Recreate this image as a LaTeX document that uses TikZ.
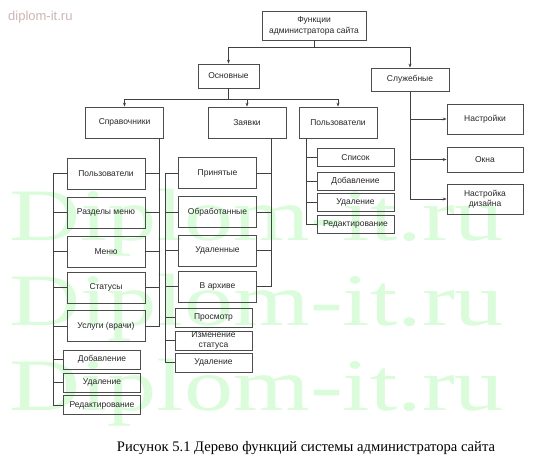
\documentclass[tikz,border=0pt]{standalone}
\usepackage{fontspec}
\setmainfont{Liberation Sans}
\newfontfamily\serifcap{Liberation Serif}
\usetikzlibrary{arrows.meta}
\definecolor{wmgreen}{RGB}{218,252,218}
\definecolor{wmpink}{RGB}{205,180,180}

\begin{document}
\begin{tikzpicture}[x=1pt, y=-1pt, >={Stealth[length=4pt, width=3pt]},
	blok/.style={draw=black!70, line width=0.7pt, inner sep=0pt, align=center,
		text=black!85, font=\fontsize{8.5}{10}\selectfont},
	bolsh/.style={blok, minimum width=78, minimum height=31},
	mal/.style={blok, minimum width=77, minimum height=19},
	svyaz/.style={black!75, line width=0.7pt},
	strel/.style={svyaz, ->},
	vodyan/.style={text=wmgreen, font=\serifcap\fontsize{74}{74}\selectfont,
		anchor=base west, inner sep=0pt, xscale=1.33, transform shape},
	]
	
	\useasboundingbox (0,0) rectangle (549,460);
	
	\def\spR{159}  % шина справа от Справочников
	\def\spL{53}   % шина слева от Справочников
	\def\zaR{271}  % шина справа от Заявок
	\def\zaL{165}  % шина слева от Заявок
	\def\puL{306}  % шина Пользователей
	
	%% ── Водяные знаки ────────────────────────────────────────────────────────
	\node[vodyan] (wm1) at (9,240) {Diplom-it.ru};
	\node[vodyan] (wm2) at (9,325) {Diplom-it.ru};
	\node[vodyan] (wm3) at (9,410) {Diplom-it.ru};
	\node[text=wmpink, font=\fontsize{13}{13}\selectfont, anchor=base west,
		inner sep=0pt] (sajt) at (8,21) {diplom-it.ru};
	
	%% ── Корень и первый уровень ──────────────────────────────────────────────
	\node[blok, minimum width=104, minimum height=29,
		font=\fontsize{8.5}{11}\selectfont] (koren) at (314,25.5)
		{Функции\\администратора сайта};
	\node[blok, minimum width=61, minimum height=24] (osn) at (228.5,76) {Основные};
	\node[blok, minimum width=78, minimum height=23] (sluzh) at (410,79.5) {Служебные};
	\draw[strel] (koren.south) -- ++(0,7) -| (osn.north);
	\draw[strel] (koren.south) -- ++(0,7) -| (sluzh.north);
	
	%% ── Основные ─────────────────────────────────────────────────────────────
	\node[bolsh] (sprav) at (124.5,122.5) {Справочники};
	\node[bolsh] (zayav) at (247,122.5) {Заявки};
	\node[bolsh] (polz) at (338,122.5) {Пользователи};
	\draw[strel] (osn.south) -- ++(0,11) -| (sprav.north);
	\draw[strel] (osn.south) -- ++(0,11) -| (zayav.north);
	\draw[strel] (osn.south) -- ++(0,11) -| (polz.north);
	
	%% ── Справочники ──────────────────────────────────────────────────────────
	\node[bolsh] (sp1) at (106,173.5) {Пользователи};
	\node[bolsh] (sp2) at (106,212.5) {Разделы меню};
	\node[bolsh] (sp3) at (106,251.5) {Меню};
	\node[bolsh] (sp4) at (106,287.5) {Статусы};
	\node[bolsh] (sp5) at (106,326) {Услуги (врачи)};
	\node[mal] (sp6) at (102,359.5) {Добавление};
	\node[mal] (sp7) at (102,382.5) {Удаление};
	\node[mal] (sp8) at (102,405) {Редактирование};
	\draw[svyaz] (\spR,0 |- sprav.south) |- (sp5.east);
	\foreach \n in {sp1,sp2,sp3,sp4}
	\draw[svyaz] (\n.east) -- (\n.east -| \spR,0);
	\draw[svyaz] (sp1.west) -- (sp1.west -| \spL,0) |- (sp8.west);
	\foreach \n in {sp2,sp3,sp4,sp5,sp6,sp7}
	\draw[svyaz] (\n.west) -- (\n.west -| \spL,0);
	
	%% ── Заявки ───────────────────────────────────────────────────────────────
	\node[bolsh] (za1) at (217.5,173) {Принятые};
	\node[bolsh] (za2) at (217.5,212) {Обработанные};
	\node[bolsh] (za3) at (217.5,250.5) {Удаленные};
	\node[bolsh] (za4) at (217.5,286.5) {В архиве};
	\node[mal] (za5) at (213.5,317.5) {Просмотр};
	\node[mal, font=\fontsize{8.5}{9.5}\selectfont] (za6) at (213.5,340.5) {Изменение\\статуса};
	\node[mal] (za7) at (213.5,362.5) {Удаление};
	\draw[svyaz] (\zaR,0 |- zayav.south) |- (za4.east);
	\foreach \n in {za1,za2,za3}
	\draw[svyaz] (\n.east) -- (\n.east -| \zaR,0);
	\draw[svyaz] (za1.west) -- (za1.west -| \zaL,0) |- (za7.west);
	\foreach \n in {za2,za3,za4,za5,za6}
	\draw[svyaz] (\n.west) -- (\n.west -| \zaL,0);
	
	%% ── Пользователи ─────────────────────────────────────────────────────────
	\node[mal, minimum height=18] (pu1) at (355.5,157.5) {Список};
	\node[mal, minimum height=18] (pu2) at (355.5,181) {Добавление};
	\node[mal, minimum height=18] (pu3) at (355.5,202.5) {Удаление};
	\node[mal, minimum height=18] (pu4) at (355.5,224.5) {Редактирование};
	\draw[svyaz] (\puL,0 |- polz.south) |- (pu4.west);
	\foreach \n in {pu1,pu2,pu3}
	\draw[svyaz] (\n.west) -- (\n.west -| \puL,0);
	
	%% ── Служебные ────────────────────────────────────────────────────────────
	\node[blok, minimum width=76, minimum height=30] (sl1) at (485,119) {Настройки};
	\node[blok, minimum width=76, minimum height=25] (sl2) at (485,159.5) {Окна};
	\node[blok, minimum width=76, minimum height=30] (sl3) at (485,199) {Настройка\\дизайна};
	\draw[strel] (sluzh.south) |- (sl3.west);
	\foreach \n in {sl1,sl2}
	\draw[strel] (\n.west -| sluzh.south) -- (\n.west);
	
	%% ── Подпись ──────────────────────────────────────────────────────────────
	\node[font=\serifcap\fontsize{14.6}{14.6}\selectfont, inner sep=0pt] (podpis)
		at (306,448) {Рисунок 5.1 Дерево функций системы администратора сайта};
	
\end{tikzpicture}
\end{document}
